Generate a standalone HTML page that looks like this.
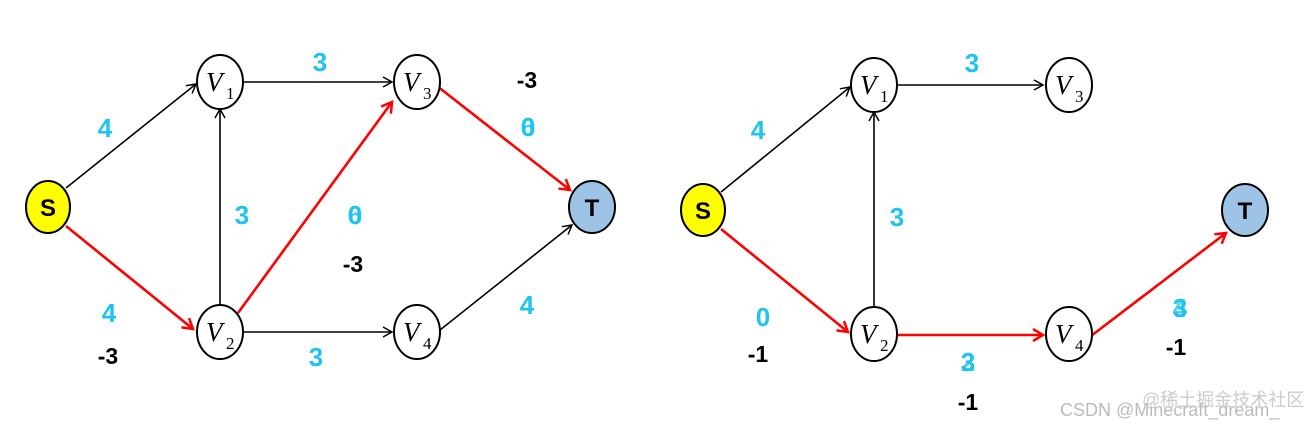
<!DOCTYPE html>
<html><head><meta charset="utf-8"><style>
body{margin:0;background:#fff}
svg text{font-family:"Liberation Sans",sans-serif;font-weight:bold}
.c{fill:#1fc3f0;font-size:26px}
.k{fill:#000;font-size:23px}
.v{font-family:"Liberation Serif",serif;font-style:italic;font-weight:normal;font-size:27px}
.s{font-family:"Liberation Serif",serif;font-weight:normal;font-size:17px}
</style></head><body>
<svg width="1313" height="425" viewBox="0 0 1313 425">
<defs>
<marker id="ab" markerWidth="12" markerHeight="12" refX="10" refY="6" orient="auto" markerUnits="userSpaceOnUse"><path d="M1,1 L10,6 L1,11" fill="none" stroke="#000" stroke-width="1.5"/></marker>
<marker id="ar" markerWidth="14" markerHeight="14" refX="11" refY="7" orient="auto" markerUnits="userSpaceOnUse"><path d="M1,1 L11,7 L1,13" fill="none" stroke="#f00" stroke-width="2.5"/></marker>
</defs>
<g stroke-width="1.6">
<line x1="66" y1="188" x2="196" y2="84" stroke="#000" marker-end="url(#ab)"/>
<line x1="244" y1="82" x2="392" y2="82" stroke="#000" marker-end="url(#ab)"/>
<line x1="220" y1="305" x2="220" y2="109" stroke="#000" marker-end="url(#ab)"/>
<line x1="244" y1="332" x2="392" y2="332" stroke="#000" marker-end="url(#ab)"/>
<line x1="440" y1="330" x2="572" y2="225" stroke="#000" marker-end="url(#ab)"/>
<line x1="721" y1="192" x2="850" y2="87" stroke="#000" marker-end="url(#ab)"/>
<line x1="898" y1="85" x2="1043" y2="85" stroke="#000" marker-end="url(#ab)"/>
<line x1="874" y1="307" x2="874" y2="112" stroke="#000" marker-end="url(#ab)"/>
</g>
<g stroke="#f00" stroke-width="2.6">
<line x1="66" y1="226" x2="193" y2="329" marker-end="url(#ar)"/>
<line x1="238" y1="313" x2="392" y2="102" marker-end="url(#ar)"/>
<line x1="437" y1="86" x2="570" y2="190" marker-end="url(#ar)"/>
<line x1="721" y1="229" x2="848" y2="332" marker-end="url(#ar)"/>
<line x1="898" y1="335" x2="1043" y2="335" marker-end="url(#ar)"/>
<line x1="1091" y1="336" x2="1226" y2="233" marker-end="url(#ar)"/>
</g>
<g stroke="#000" stroke-width="2">
<ellipse cx="48" cy="207" rx="22" ry="26" fill="#ffff00"/>
<ellipse cx="220" cy="82" rx="23" ry="27" fill="#fff"/>
<ellipse cx="417" cy="82" rx="23" ry="27" fill="#fff"/>
<ellipse cx="220" cy="332" rx="23" ry="27" fill="#fff"/>
<ellipse cx="417" cy="332" rx="23" ry="27" fill="#fff"/>
<ellipse cx="592" cy="207" rx="23" ry="26" fill="#9dc3e6"/>
<ellipse cx="703" cy="210" rx="22" ry="26" fill="#ffff00"/>
<ellipse cx="874" cy="85" rx="23" ry="27" fill="#fff"/>
<ellipse cx="1069" cy="85" rx="23" ry="27" fill="#fff"/>
<ellipse cx="874" cy="334" rx="23" ry="27" fill="#fff"/>
<ellipse cx="1069" cy="334" rx="23" ry="27" fill="#fff"/>
<ellipse cx="1245" cy="210" rx="23" ry="26" fill="#9dc3e6"/>
</g>
<g text-anchor="middle">
<text x="48" y="216" style="font-size:24px">S</text>
<text x="592" y="216" style="font-size:24px">T</text>
<text x="703" y="219" style="font-size:24px">S</text>
<text x="1245" y="219" style="font-size:24px">T</text>
</g>
<g>
<text class="v" x="206" y="91">V</text><text class="s" x="226" y="99">1</text>
<text class="v" x="403" y="91">V</text><text class="s" x="423" y="99">3</text>
<text class="v" x="206" y="341">V</text><text class="s" x="226" y="349">2</text>
<text class="v" x="403" y="341">V</text><text class="s" x="423" y="349">4</text>
<text class="v" x="860" y="94">V</text><text class="s" x="880" y="102">1</text>
<text class="v" x="1055" y="94">V</text><text class="s" x="1075" y="102">3</text>
<text class="v" x="860" y="343">V</text><text class="s" x="880" y="351">2</text>
<text class="v" x="1055" y="343">V</text><text class="s" x="1075" y="351">4</text>
</g>
<g text-anchor="middle">
<text class="c" x="105" y="137">4</text>
<text class="c" x="320" y="71">3</text>
<text class="c" x="242" y="224">3</text>
<text class="c" x="355" y="224">0</text><text class="c" x="355" y="224" style="opacity:.8">6</text>
<text class="k" x="527" y="88">-3</text>
<text class="c" x="528" y="136">0</text><text class="c" x="528" y="136" style="opacity:.8">6</text>
<text class="k" x="353" y="272">-3</text>
<text class="c" x="109" y="322">4</text>
<text class="k" x="108" y="364">-3</text>
<text class="c" x="316" y="366">3</text>
<text class="c" x="527" y="314">4</text>
<text class="c" x="758" y="139">4</text>
<text class="c" x="972" y="72">3</text>
<text class="c" x="897" y="226">3</text>
<text class="c" x="763" y="326">0</text>
<text class="k" x="758" y="362">-1</text>
<text class="c" x="968" y="371">3</text><text class="c" x="968" y="371" style="opacity:.8">2</text>
<text class="k" x="968" y="410">-1</text>
<text class="c" x="1180" y="317">3</text><text class="c" x="1180" y="317" style="opacity:.8">4</text>
<text class="k" x="1176" y="355">-1</text>
</g>
<text x="1060" y="416" style="font-weight:normal;font-size:18px;fill:#bbb;font-family:'Liberation Sans','Noto Sans CJK SC',sans-serif">CSDN @Minecraft_dream_</text>
<text x="1142" y="406" style="font-weight:normal;font-size:18px;fill:#ccc;font-family:'Liberation Sans','Noto Sans CJK SC',sans-serif">@稀土掘金技术社区</text>
</svg>
</body></html>
